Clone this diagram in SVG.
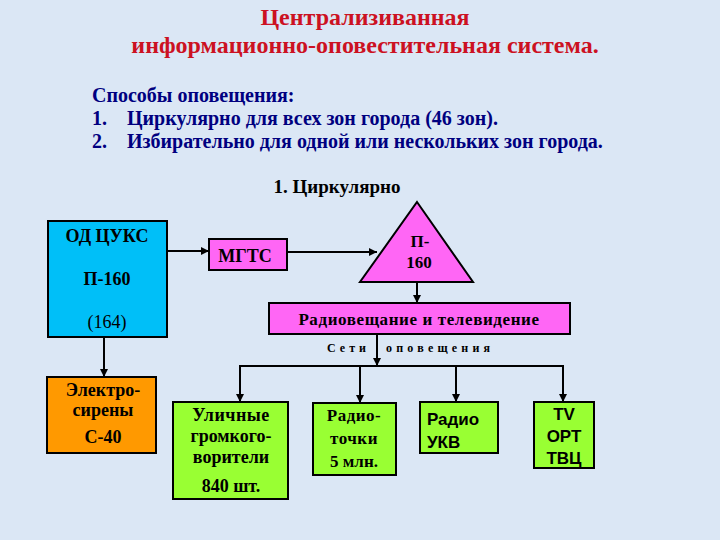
<svg xmlns="http://www.w3.org/2000/svg" width="720" height="540" viewBox="0 0 720 540">
<defs>
<marker id="ah" viewBox="0 0 10 10" refX="10" refY="5" markerWidth="4" markerHeight="4" orient="auto" markerUnits="strokeWidth">
<path d="M0,0 L10,5 L0,10 z" fill="#000"/>
</marker>
</defs>
<style>
text{font-family:"Liberation Serif","Times New Roman",serif;font-weight:bold;}
.title{fill:#cc1122;font-size:24px;text-anchor:middle;}
.info{fill:#000080;font-size:20px;}
.box{stroke:#000;stroke-width:2;}
.lbl{fill:#000;font-size:18px;text-anchor:middle;}
.sans{font-family:"Liberation Sans",Arial,sans-serif;font-size:17px;}
.conn{stroke:#000;stroke-width:2;fill:none;}
</style>
<rect x="0" y="0" width="720" height="540" fill="#dbe7f5"/>
<text class="title" x="365" y="25">Централизиванная</text>
<text class="title" x="365" y="53">информационно-оповестительная система.</text>
<text class="info" x="92" y="102">Способы оповещения:</text>
<text class="info" x="92" y="125">1.</text>
<text class="info" x="127" y="125">Циркулярно для всех зон города (46 зон).</text>
<text class="info" x="92" y="148">2.</text>
<text class="info" x="127" y="148">Избирательно для одной или нескольких зон города.</text>
<text x="337" y="193" style="font-size:19px;text-anchor:middle;fill:#000">1. Циркулярно</text>

<g id="connectors">
<line class="conn" x1="167" y1="251" x2="209" y2="251" marker-end="url(#ah)"/>
<line class="conn" x1="287" y1="252" x2="377" y2="252" marker-end="url(#ah)"/>
<line class="conn" x1="417" y1="282" x2="417" y2="303" marker-end="url(#ah)"/>
<line class="conn" x1="377" y1="334" x2="377" y2="366" marker-end="url(#ah)"/>
<polyline class="conn" points="239,366 563,366 563,402" marker-end="url(#ah)"/>
<line class="conn" x1="240" y1="366" x2="240" y2="402" marker-end="url(#ah)"/>
<line class="conn" x1="360" y1="366" x2="360" y2="403" marker-end="url(#ah)"/>
<line class="conn" x1="456" y1="366" x2="456" y2="402" marker-end="url(#ah)"/>
<line class="conn" x1="104" y1="337" x2="104" y2="377" marker-end="url(#ah)"/>
<text x="370" y="352" style="font-size:12px;text-anchor:end;letter-spacing:4px;fill:#000">Сети</text>
<text x="386" y="352" style="font-size:12px;letter-spacing:4.2px;fill:#000">оповещения</text>
</g>

<g id="odcuks">
<rect class="box" x="48" y="221" width="119" height="116" fill="#00bff8"/>
<text class="lbl" x="107" y="242">ОД ЦУКС</text>
<text class="lbl" x="107" y="285">П-160</text>
<text class="lbl" x="107" y="328" style="font-weight:normal">(164)</text>
</g>
<g id="mgts">
<rect class="box" x="209" y="239" width="78" height="31" fill="#ff66f5"/>
<text class="lbl" x="245" y="262">МГТС</text>
</g>
<g id="p160">
<polygon class="box" points="417,202 473,282 360,282" fill="#ff66f5"/>
<text class="lbl" x="420" y="247" style="font-size:17px">П-</text>
<text class="lbl" x="419" y="268" style="font-size:17px">160</text>
</g>
<g id="radio-tv">
<rect class="box" x="269" y="303" width="301" height="31" fill="#ff66f5"/>
<text class="lbl" x="419" y="325" style="font-size:17px;letter-spacing:0.6px">Радиовещание и телевидение</text>
</g>
<g id="sireny">
<rect class="box" x="47" y="377" width="109" height="76" fill="#ff9900"/>
<text class="lbl" x="103" y="396">Электро-</text>
<text class="lbl" x="103" y="416">сирены</text>
<text class="lbl" x="103" y="443">С-40</text>
</g>
<g id="ulichnye">
<rect class="box" x="173" y="402" width="115" height="97" fill="#99ff33"/>
<text class="lbl" x="231" y="421" style="letter-spacing:0.5px">Уличные</text>
<text class="lbl" x="231" y="442">громкого-</text>
<text class="lbl" x="231" y="463">ворители</text>
<text class="lbl" x="231" y="492">840 шт.</text>
</g>
<g id="radiotochki">
<rect class="box" x="313" y="403" width="83" height="72" fill="#99ff33"/>
<text class="lbl" x="354" y="421" style="font-size:17px;letter-spacing:0.5px">Радио-</text>
<text class="lbl" x="354" y="444" style="font-size:17px;letter-spacing:0.5px">точки</text>
<text class="lbl" x="354" y="467" style="font-size:17px">5 млн.</text>
</g>
<g id="ukv">
<rect class="box" x="420" y="402" width="78" height="51" fill="#99ff33"/>
<text class="lbl sans" x="427" y="425" style="text-anchor:start">Радио</text>
<text class="lbl sans" x="427" y="448" style="text-anchor:start">УКВ</text>
</g>
<g id="tv">
<rect class="box" x="534" y="402" width="60" height="66" fill="#99ff33"/>
<text class="lbl sans" x="564" y="420">TV</text>
<text class="lbl sans" x="564" y="442">ОРТ</text>
<text class="lbl sans" x="564" y="464">ТВЦ</text>
</g>
</svg>
